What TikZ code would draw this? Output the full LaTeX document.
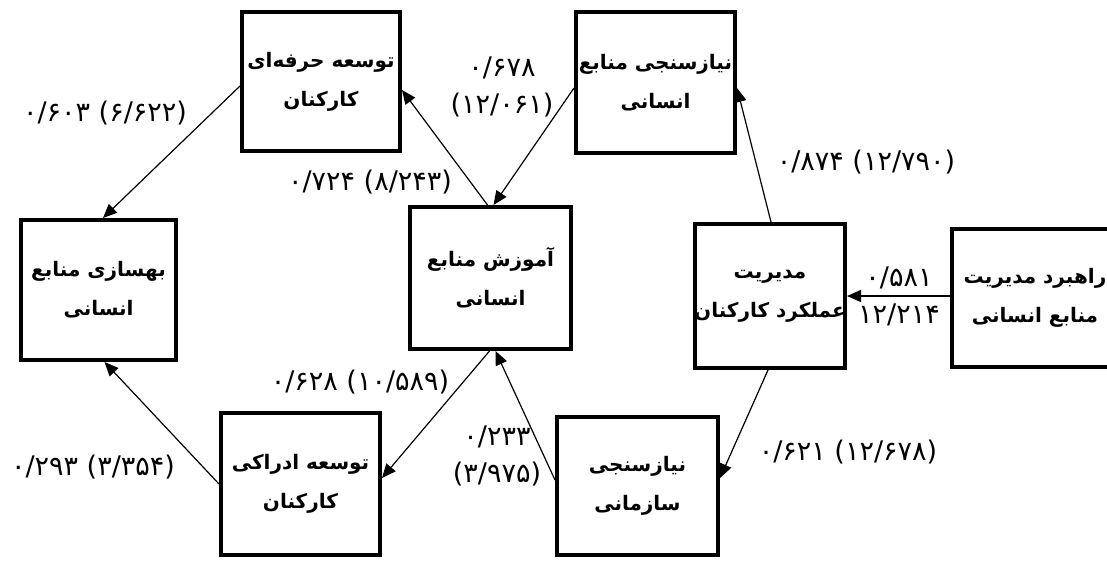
\documentclass[tikz,border=0pt]{standalone}
\usepackage{fontspec}
\usetikzlibrary{arrows.meta}
\TeXXeTstate=1
\newfontfamily\arabicfont[Script=Arabic]{DejaVu Sans}
\newcommand{\bline}[1]{\makebox[0pt]{\beginR #1\endR}}
\begin{document}
\begin{tikzpicture}[x=1pt,y=-1pt,
  box/.style={draw, line width=4pt, inner sep=0pt, align=center,
    font=\arabicfont\bfseries\fontsize{20}{39}\selectfont},
  lbl/.style={font=\arabicfont\fontsize{27}{37}\selectfont, inner sep=0pt, align=center},
  conn/.style={line width=1.2pt, -{Triangle[length=14pt,width=12pt]}}]
\useasboundingbox (0,0) rectangle (1107,561);
\clip (0,0) rectangle (1107,561);
\node[box, minimum width=158pt, minimum height=139pt] (prof) at (321,81.5)
  {\bline{توسعه حرفه‌ای}\\\bline{کارکنان}};
\node[box, minimum width=159pt, minimum height=141pt] (needHR) at (655.5,82.5)
  {\bline{نیازسنجی منابع}\\\bline{انسانی}};
\node[box, minimum width=155pt, minimum height=140pt] (improve) at (98.5,290)
  {\bline{بهسازی منابع}\\\bline{انسانی}};
\node[box, minimum width=161pt, minimum height=142pt] (train) at (490.5,278)
  {\bline{آموزش منابع}\\\bline{انسانی}};
\node[box, minimum width=150pt, minimum height=144pt] (perf) at (770,296)
  {\bline{مدیریت}\\\bline{عملکرد کارکنان}};
\node[box, minimum width=166pt, minimum height=138pt] (strategy) at (1035,298)
  {\bline{راهبرد مدیریت}\\\bline{منابع انسانی}};
\node[box, minimum width=159pt, minimum height=142pt] (percept) at (300.5,484)
  {\bline{توسعه ادراکی}\\\bline{کارکنان}};
\node[box, minimum width=161pt, minimum height=138pt] (orgneed) at (637.5,486)
  {\bline{نیازسنجی}\\\bline{سازمانی}};

\draw[conn] ([yshift=-5.5pt]needHR.west) -- ([xshift=3pt]train.north);
\draw[conn] ([xshift=-3pt]train.north) -- ([yshift=-8.5pt]prof.east);
\draw[conn] ([yshift=-4.5pt]prof.west) -- ([xshift=4.5pt]improve.north);
\draw[conn] (percept.west) -- ([xshift=6pt]improve.south);
\draw[conn] ([xshift=-1pt]train.south) -- ([yshift=6pt]percept.east);
\draw[conn] ([yshift=6pt]orgneed.west) -- ([xshift=5pt]train.south);
\draw[conn] ([xshift=-2pt]perf.south) -- ([yshift=8pt]orgneed.east);
\draw[conn] ([xshift=1pt]perf.north) -- ([yshift=-5.5pt]needHR.east);
\draw[conn] (strategy.west |- perf.east) -- (perf.east);

\node[lbl] (l1) at (105,113) {\beginL۰/۶۰۳ (۶/۶۲۲)\endL};
\node[lbl] (l2) at (502,87) {۰/۶۷۸\\(۱۲/۰۶۱)};
\node[lbl] (l3) at (370,182) {\beginL۰/۷۲۴ (۸/۲۴۳)\endL};
\node[lbl] (l4) at (866,162) {\beginL۰/۸۷۴ (۱۲/۷۹۰)\endL};
\node[lbl] (l5) at (899,296) {۰/۵۸۱\\۱۲/۲۱۴};
\node[lbl] (l6) at (360,382) {\beginL۰/۶۲۸ (۱۰/۵۸۹)\endL};
\node[lbl] (l7) at (93,467) {\beginL۰/۲۹۳ (۳/۳۵۴)\endL};
\node[lbl] (l8) at (497,456) {۰/۲۳۳\\(۳/۹۷۵)};
\node[lbl] (l9) at (848,452) {\beginL۰/۶۲۱ (۱۲/۶۷۸)\endL};
\end{tikzpicture}
\end{document}
